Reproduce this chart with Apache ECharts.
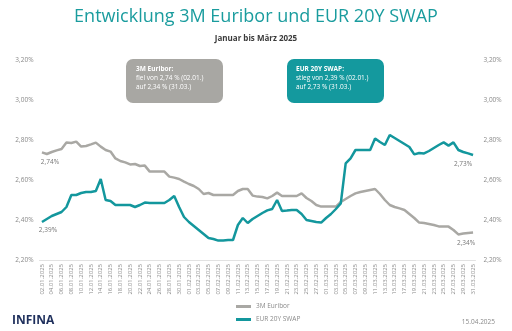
<!DOCTYPE html>
<html><head><meta charset="utf-8">
<script src="https://cdn.jsdelivr.net/npm/echarts@6/dist/echarts.min.js"></script>
<style>html,body{margin:0;padding:0;background:#fff}#c{width:512px;height:331px}</style>
</head><body><div id="c"></div>
<script>
// Categories: daily dates 02.01.2025 - 31.03.2025
const months = [[1, 2, 31], [2, 1, 28], [3, 1, 31]];
const categories = [];
months.forEach(([m, s, e]) => { for (let d = s; d <= e; d++) categories.push(String(d).padStart(2,'0') + '.' + String(m).padStart(2,'0') + '.2025'); });

const euribor = [
 2.738,2.730,2.740,2.748,2.755,2.787,2.785,2.792,2.767,2.770,
 2.778,2.787,2.767,2.750,2.742,2.708,2.695,2.688,2.678,2.680,
 2.670,2.672,2.642,2.642,2.642,2.642,2.617,2.612,2.605,2.592,
 2.580,2.570,2.555,2.530,2.535,2.525,2.525,2.525,2.525,2.525,
 2.545,2.555,2.555,2.522,2.517,2.515,2.508,2.520,2.537,2.520,
 2.520,2.520,2.520,2.533,2.510,2.495,2.475,2.467,2.467,2.467,
 2.467,2.490,2.505,2.520,2.533,2.540,2.545,2.550,2.555,2.530,
 2.500,2.475,2.465,2.458,2.450,2.430,2.410,2.387,2.385,2.380,
 2.375,2.368,2.367,2.367,2.350,2.328,2.332,2.335,2.337
];
const swap20y = [
 2.390,2.405,2.420,2.430,2.440,2.465,2.525,2.525,2.535,2.540,
 2.540,2.545,2.605,2.500,2.495,2.475,2.475,2.475,2.475,2.465,
 2.475,2.487,2.485,2.485,2.485,2.485,2.500,2.520,2.465,2.415,
 2.390,2.370,2.350,2.330,2.310,2.305,2.297,2.298,2.300,2.300,
 2.375,2.410,2.385,2.405,2.420,2.435,2.448,2.455,2.500,2.445,
 2.447,2.450,2.450,2.430,2.400,2.395,2.390,2.387,2.410,2.430,
 2.455,2.483,2.683,2.708,2.750,2.750,2.750,2.750,2.808,2.790,
 2.775,2.825,2.810,2.795,2.780,2.765,2.728,2.735,2.733,2.745,
 2.760,2.775,2.788,2.772,2.788,2.750,2.740,2.733,2.725
];
const yTicks = [2.2, 2.4, 2.6, 2.8, 3.0, 3.2];
const seriesNames = ['3M Euribor', 'EUR 20Y SWAP'];
const subtitle = 'Januar bis März 2025';
const titleText = 'Entwicklung 3M Euribor und EUR 20Y SWAP';

const GRAY = '#a9a8a4', TEAL = '#13979d';
const fmtPct = v => v.toFixed(2).replace('.', ',') + '%';

function withEndLabels(arr, firstOff, lastOff) {
  return arr.map((v, i) => {
    if (i === 0) return { value: v, label: { show: true, position: 'bottom', offset: firstOff, formatter: p => fmtPct(p.value) } };
    if (i === arr.length - 1) return { value: v, label: { show: true, position: 'bottom', offset: lastOff, formatter: p => fmtPct(p.value) } };
    return v;
  });
}

const chart = echarts.init(document.getElementById('c'), null, { renderer: 'canvas' });
const axisLab = { fontSize: 6.5, color: '#8a8a8a', fontFamily: 'Open Sans' };
const yAxisCommon = {
  type: 'value', min: yTicks[0], max: yTicks[yTicks.length - 1], interval: 0.2,
  splitLine: { show: false }, axisLine: { show: false }, axisTick: { show: false },
  axisLabel: Object.assign({ formatter: v => v.toFixed(2).replace('.', ',') + '%' }, axisLab)
};
const lblStyle = { fontSize: 6.5, color: '#777', fontFamily: 'Open Sans' };
chart.setOption({
  animation: false,
  title: [
    { text: titleText, left: 'center', top: 3, textStyle: { fontFamily: 'Open Sans', fontSize: 18, fontWeight: 'normal', color: '#1a9c9e' } },
    { text: subtitle, left: 'center', top: 30, textStyle: { fontFamily: 'Open Sans', fontSize: 8, fontWeight: 'bold', color: '#3a3a3a' } }
  ],
  grid: { left: 39.5, right: 36.5, top: 60, height: 200, containLabel: false },
  xAxis: {
    type: 'category', data: categories, boundaryGap: true,
    axisLine: { lineStyle: { color: '#e2e2e2' } }, axisTick: { show: false },
    axisLabel: Object.assign({}, axisLab, { fontSize: 6, interval: 1, rotate: 90, margin: 4 })
  },
  yAxis: [
    Object.assign({ position: 'left' }, yAxisCommon, { axisLabel: Object.assign({}, yAxisCommon.axisLabel, { margin: 6 }) }),
    Object.assign({ position: 'right' }, yAxisCommon, { axisLabel: Object.assign({}, yAxisCommon.axisLabel, { margin: 8 }) })
  ],
  legend: {
    orient: 'vertical', left: 236, top: 303, padding: 0, itemWidth: 15, itemHeight: 3, itemGap: 6,
    icon: 'rect', textStyle: { fontSize: 6.5, color: '#8a8a8a', fontFamily: 'Open Sans' },
    data: seriesNames
  },
  series: [
    { name: seriesNames[0], type: 'line', data: withEndLabels(euribor, [8, 1], [-7, 2]),
      showSymbol: true, showAllSymbol: true, symbol: 'circle', symbolSize: 0.01,
      lineStyle: { color: GRAY, width: 2.5 }, itemStyle: { color: GRAY }, label: lblStyle },
    { name: seriesNames[1], type: 'line', data: withEndLabels(swap20y, [6, 0], [-10, 1]),
      showSymbol: true, showAllSymbol: true, symbol: 'circle', symbolSize: 0.01,
      lineStyle: { color: TEAL, width: 2.5 }, itemStyle: { color: TEAL }, label: lblStyle }
  ],
  graphic: [
    { type: 'rect', shape: { x: 126, y: 59, width: 97, height: 44, r: 7 }, style: { fill: '#a8a7a3' } },
    { type: 'text', left: 136, top: 65, style: { text: '{b|3M Euribor:}\nfiel von 2,74 % (02.01.)\nauf 2,34 % (31.03.)', fill: '#fff', fontSize: 6.5, lineHeight: 9, fontFamily: 'Open Sans', rich: { b: { fontWeight: 'bold', fontSize: 6.5, fill: '#fff', lineHeight: 9, fontFamily: 'Open Sans' } } } },
    { type: 'rect', shape: { x: 287, y: 59, width: 97, height: 44, r: 7 }, style: { fill: '#14999e' } },
    { type: 'text', left: 296, top: 65, style: { text: '{b|EUR 20Y SWAP:}\nstieg von 2,39 % (02.01.)\nauf 2,73 % (31.03.)', fill: '#fff', fontSize: 6.5, lineHeight: 9, fontFamily: 'Open Sans', rich: { b: { fontWeight: 'bold', fontSize: 6.5, fill: '#fff', lineHeight: 9, fontFamily: 'Open Sans' } } } },
    { type: 'text', left: 12, top: 315, style: { text: 'INFINA', fill: '#1e2f5c', fontSize: 12, fontWeight: 'bold', fontFamily: 'Open Sans' } },
    { type: 'text', right: 17, top: 319, style: { text: '15.04.2025', fill: '#8a8a8a', fontSize: 6.5, fontFamily: 'Open Sans' } }
  ]
});
</script></body></html>
